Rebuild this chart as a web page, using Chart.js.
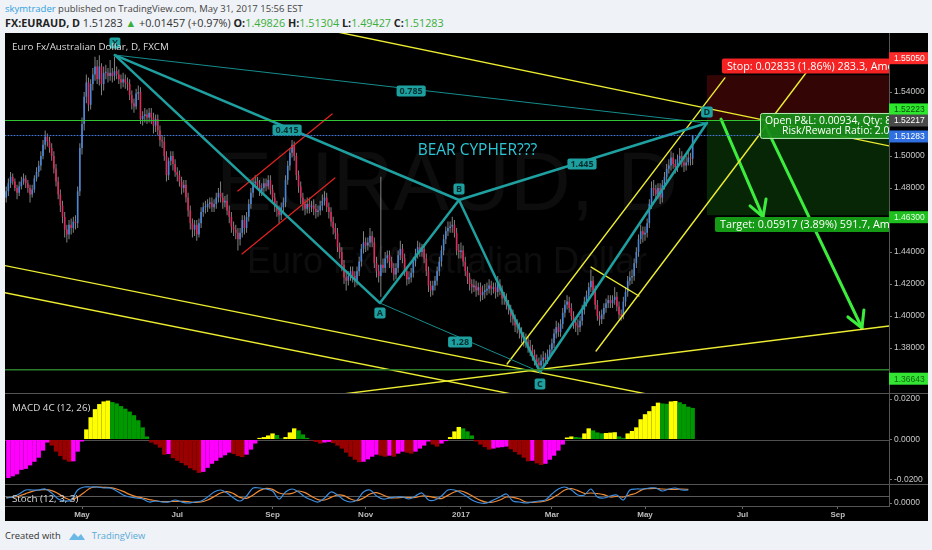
<!DOCTYPE html>
<html>
<head>
<meta charset="utf-8">
<title>EURAUD daily - Bear Cypher</title>
<script src="https://cdn.jsdelivr.net/npm/chart.js@4.4.0/dist/chart.umd.min.js"></script>
<style>
  body { margin: 0; width: 932px; height: 550px; overflow: hidden; background: #eff2f6; font-family: "Open Sans", sans-serif; }
  #h1 { position: absolute; left: 5px; top: 2px; font-size: 9.5px; color: #444; white-space: nowrap; }
  #h2 { position: absolute; left: 5px; top: 15px; font-size: 10.8px; color: #333; white-space: nowrap; }
  #h2 b { color: #222; }
  .g { color: #3aae3a; }
  #box { position: absolute; left: 5px; top: 33px; width: 923px; height: 488px; background: #000; }
  .pane { position: absolute; left: 0; width: 923px; }
  #ft { position: absolute; left: 5px; top: 529px; font-size: 9.4px; color: #333; white-space: nowrap; display: flex; align-items: center; }
  #ft svg { margin: 0 6px 0 7px; }
  #ft span { color: #5aaad8; }
</style>
</head>
<body>
<div id="h1"><span style="color:#2f9fe0">skymtrader</span> published on TradingView.com, May 31, 2017 15:56 EST</div>
<div id="h2"><b>FX:EURAUD, D</b> 1.51283 <span class="g">&#9650;</span> +0.01457 (+0.97%) <b>O:</b><span class="g">1.49826</span> <b>H:</b><span class="g">1.51304</span> <b>L:</b><span class="g">1.49427</span> <b>C:</b><span class="g">1.51283</span></div>
<div id="box">
  <div class="pane" style="top:0;height:361px"><canvas id="main"></canvas></div>
  <div class="pane" style="top:361px;height:91px"><canvas id="macd"></canvas></div>
  <div class="pane" style="top:452px;height:36px"><canvas id="stoch"></canvas></div>
</div>
<div id="ft">Created with<svg width="18" height="11" viewBox="0 0 18 11"><path d="M1 10 L6 3 L10 7 L13 4 L17 10 Z" fill="#69b8e6"/></svg><span>TradingView</span></div>

<script>
// bar 0 = 2 May 2016, one bar per trading day
const firstBar = -35;
const firstOpen = 1.474;

const closes = [
  1.478, 1.483, 1.487, 1.484, 1.480, 1.477, 1.481, 1.484, 1.486, 1.483,
  1.480, 1.476, 1.479, 1.486, 1.490, 1.494, 1.500, 1.507, 1.512, 1.509,
  1.505, 1.500, 1.492, 1.484, 1.476, 1.469, 1.462, 1.454, 1.451, 1.457,
  1.455, 1.459, 1.458, 1.478, 1.505, 1.520, 1.537, 1.546, 1.532, 1.545,
  1.551, 1.556, 1.548, 1.556, 1.545, 1.552, 1.552, 1.550, 1.552, 1.550,
  1.553, 1.551, 1.548, 1.546, 1.548, 1.546, 1.545, 1.538, 1.533, 1.531,
  1.539, 1.540, 1.523, 1.525, 1.526, 1.524, 1.527, 1.524, 1.519, 1.523,
  1.516, 1.510, 1.509, 1.500, 1.488, 1.497, 1.500, 1.495, 1.490, 1.488,
  1.484, 1.480, 1.482, 1.474, 1.466, 1.458, 1.454, 1.457, 1.451, 1.458,
  1.465, 1.468, 1.468, 1.470, 1.471, 1.468, 1.470, 1.474, 1.477, 1.474,
  1.471, 1.472, 1.466, 1.462, 1.456, 1.454, 1.452, 1.448, 1.452, 1.460,
  1.455, 1.462, 1.470, 1.477, 1.483, 1.484, 1.482, 1.478, 1.480, 1.483,
  1.481, 1.485, 1.479, 1.474, 1.469, 1.466, 1.463, 1.468, 1.471, 1.485,
  1.494, 1.502, 1.507, 1.500, 1.488, 1.481, 1.474, 1.470, 1.467, 1.470,
  1.468, 1.469, 1.467, 1.465, 1.466, 1.469, 1.472, 1.474, 1.468, 1.465,
  1.459, 1.455, 1.452, 1.443, 1.440, 1.432, 1.424, 1.422, 1.425, 1.428,
  1.425, 1.422, 1.428, 1.434, 1.442, 1.446, 1.444, 1.446, 1.450, 1.446,
  1.433, 1.428, 1.425, 1.432, 1.430, 1.436, 1.438, 1.434, 1.430, 1.426,
  1.430, 1.438, 1.442, 1.436, 1.428, 1.423, 1.424, 1.427, 1.434, 1.439,
  1.443, 1.440, 1.442, 1.436, 1.428, 1.419, 1.416, 1.419, 1.422, 1.428,
  1.434, 1.441, 1.448, 1.453, 1.455, 1.456, 1.457, 1.452, 1.441, 1.440,
  1.441, 1.434, 1.428, 1.424, 1.420, 1.418, 1.419, 1.416, 1.418, 1.413,
  1.415, 1.416, 1.417, 1.419, 1.417, 1.418, 1.415, 1.420, 1.416, 1.411,
  1.411, 1.407, 1.404, 1.400, 1.398, 1.394, 1.393, 1.390, 1.387, 1.385,
  1.384, 1.381, 1.379, 1.376, 1.373, 1.371, 1.369, 1.372, 1.374, 1.373,
  1.376, 1.379, 1.383, 1.389, 1.393, 1.390, 1.395, 1.402, 1.407, 1.409,
  1.405, 1.400, 1.396, 1.394, 1.393, 1.397, 1.404, 1.409, 1.413, 1.418,
  1.422, 1.416, 1.407, 1.400, 1.398, 1.401, 1.405, 1.408, 1.410, 1.408,
  1.410, 1.412, 1.406, 1.401, 1.400, 1.409, 1.415, 1.422, 1.424, 1.425,
  1.433, 1.440, 1.448, 1.453, 1.451, 1.452, 1.458, 1.470, 1.480, 1.479,
  1.476, 1.480, 1.474, 1.482, 1.487, 1.492, 1.494, 1.499, 1.495, 1.493,
  1.498, 1.500, 1.496, 1.494, 1.496, 1.499, 1.4983, 1.5128
];

const highs = [
  1.481, 1.486, 1.490, 1.489, 1.486, 1.482, 1.484, 1.487, 1.489, 1.488,
  1.485, 1.482, 1.482, 1.488, 1.493, 1.497, 1.503, 1.510, 1.516, 1.514,
  1.512, 1.508, 1.503, 1.495, 1.487, 1.479, 1.472, 1.465, 1.457, 1.460,
  1.461, 1.462, 1.463, 1.481, 1.508, 1.524, 1.540, 1.551, 1.549, 1.548,
  1.555, 1.562, 1.560, 1.563, 1.558, 1.556, 1.557, 1.555, 1.560, 1.555,
  1.562, 1.556, 1.554, 1.551, 1.552, 1.551, 1.549, 1.548, 1.541, 1.536,
  1.542, 1.544, 1.543, 1.528, 1.530, 1.529, 1.530, 1.530, 1.527, 1.526,
  1.526, 1.519, 1.513, 1.512, 1.503, 1.499, 1.503, 1.503, 1.498, 1.493,
  1.491, 1.487, 1.485, 1.485, 1.477, 1.469, 1.461, 1.460, 1.460, 1.461,
  1.468, 1.471, 1.472, 1.473, 1.474, 1.474, 1.473, 1.477, 1.480, 1.484,
  1.477, 1.475, 1.476, 1.469, 1.465, 1.459, 1.457, 1.455, 1.455, 1.463,
  1.463, 1.465, 1.473, 1.480, 1.486, 1.488, 1.487, 1.485, 1.483, 1.486,
  1.486, 1.488, 1.488, 1.482, 1.477, 1.472, 1.469, 1.471, 1.474, 1.488,
  1.497, 1.505, 1.510, 1.509, 1.502, 1.491, 1.484, 1.477, 1.473, 1.474,
  1.474, 1.472, 1.473, 1.470, 1.469, 1.472, 1.476, 1.478, 1.477, 1.471,
  1.468, 1.462, 1.458, 1.455, 1.446, 1.443, 1.435, 1.427, 1.428, 1.431,
  1.431, 1.428, 1.431, 1.437, 1.445, 1.453, 1.449, 1.449, 1.455, 1.453,
  1.449, 1.437, 1.432, 1.487, 1.436, 1.440, 1.441, 1.441, 1.437, 1.433,
  1.433, 1.441, 1.447, 1.445, 1.439, 1.431, 1.428, 1.430, 1.437, 1.442,
  1.447, 1.446, 1.445, 1.445, 1.439, 1.431, 1.422, 1.422, 1.425, 1.431,
  1.437, 1.444, 1.451, 1.456, 1.459, 1.459, 1.462, 1.460, 1.455, 1.445,
  1.446, 1.444, 1.437, 1.431, 1.427, 1.423, 1.423, 1.422, 1.421, 1.421,
  1.419, 1.420, 1.421, 1.423, 1.422, 1.421, 1.421, 1.425, 1.423, 1.419,
  1.415, 1.414, 1.410, 1.407, 1.404, 1.401, 1.398, 1.396, 1.393, 1.390,
  1.389, 1.387, 1.385, 1.382, 1.379, 1.376, 1.374, 1.376, 1.378, 1.377,
  1.379, 1.382, 1.386, 1.392, 1.397, 1.396, 1.398, 1.405, 1.410, 1.413,
  1.412, 1.408, 1.403, 1.399, 1.398, 1.400, 1.407, 1.412, 1.416, 1.421,
  1.429, 1.425, 1.419, 1.410, 1.403, 1.404, 1.408, 1.411, 1.413, 1.413,
  1.413, 1.418, 1.415, 1.409, 1.404, 1.412, 1.418, 1.425, 1.428, 1.429,
  1.436, 1.443, 1.451, 1.457, 1.456, 1.456, 1.461, 1.473, 1.484, 1.485,
  1.482, 1.483, 1.483, 1.485, 1.490, 1.495, 1.498, 1.503, 1.502, 1.498,
  1.501, 1.505, 1.503, 1.499, 1.500, 1.503, 1.502, 1.5130
];

const lows = [
  1.471, 1.475, 1.480, 1.482, 1.478, 1.473, 1.475, 1.479, 1.482, 1.480,
  1.477, 1.471, 1.474, 1.477, 1.484, 1.487, 1.491, 1.498, 1.504, 1.506,
  1.502, 1.497, 1.489, 1.481, 1.473, 1.465, 1.458, 1.449, 1.446, 1.448,
  1.451, 1.452, 1.454, 1.455, 1.475, 1.501, 1.516, 1.533, 1.528, 1.529,
  1.541, 1.547, 1.545, 1.544, 1.538, 1.541, 1.548, 1.546, 1.547, 1.546,
  1.547, 1.548, 1.545, 1.542, 1.543, 1.542, 1.541, 1.535, 1.529, 1.527,
  1.529, 1.535, 1.520, 1.519, 1.521, 1.520, 1.521, 1.520, 1.514, 1.515,
  1.513, 1.506, 1.505, 1.497, 1.484, 1.485, 1.494, 1.491, 1.487, 1.484,
  1.481, 1.476, 1.477, 1.471, 1.462, 1.454, 1.449, 1.450, 1.447, 1.449,
  1.455, 1.462, 1.464, 1.465, 1.467, 1.465, 1.465, 1.467, 1.471, 1.471,
  1.467, 1.468, 1.463, 1.458, 1.452, 1.450, 1.448, 1.441, 1.444, 1.449,
  1.451, 1.452, 1.459, 1.467, 1.474, 1.480, 1.479, 1.475, 1.475, 1.477,
  1.478, 1.479, 1.476, 1.471, 1.465, 1.462, 1.458, 1.460, 1.465, 1.468,
  1.482, 1.491, 1.499, 1.497, 1.485, 1.477, 1.470, 1.466, 1.463, 1.464,
  1.464, 1.465, 1.463, 1.461, 1.462, 1.463, 1.466, 1.469, 1.465, 1.461,
  1.456, 1.451, 1.448, 1.440, 1.436, 1.428, 1.420, 1.416, 1.419, 1.422,
  1.421, 1.418, 1.419, 1.425, 1.431, 1.439, 1.440, 1.441, 1.443, 1.443,
  1.430, 1.424, 1.421, 1.412, 1.427, 1.427, 1.433, 1.430, 1.427, 1.422,
  1.423, 1.427, 1.435, 1.433, 1.425, 1.419, 1.420, 1.421, 1.424, 1.431,
  1.436, 1.437, 1.437, 1.433, 1.425, 1.415, 1.412, 1.413, 1.416, 1.419,
  1.425, 1.431, 1.438, 1.445, 1.450, 1.452, 1.452, 1.449, 1.438, 1.436,
  1.436, 1.431, 1.425, 1.420, 1.416, 1.414, 1.415, 1.412, 1.413, 1.409,
  1.410, 1.411, 1.413, 1.414, 1.413, 1.414, 1.411, 1.412, 1.413, 1.407,
  1.407, 1.404, 1.401, 1.396, 1.394, 1.390, 1.389, 1.386, 1.383, 1.381,
  1.380, 1.377, 1.375, 1.372, 1.369, 1.368, 1.3665, 1.366, 1.369, 1.370,
  1.370, 1.373, 1.376, 1.380, 1.386, 1.387, 1.387, 1.392, 1.399, 1.404,
  1.402, 1.397, 1.392, 1.390, 1.388, 1.390, 1.394, 1.401, 1.406, 1.410,
  1.415, 1.413, 1.404, 1.397, 1.394, 1.395, 1.398, 1.402, 1.405, 1.405,
  1.405, 1.407, 1.403, 1.398, 1.397, 1.398, 1.406, 1.412, 1.419, 1.420,
  1.422, 1.430, 1.437, 1.445, 1.446, 1.447, 1.449, 1.455, 1.467, 1.475,
  1.472, 1.473, 1.470, 1.471, 1.479, 1.484, 1.489, 1.491, 1.492, 1.489,
  1.490, 1.494, 1.493, 1.490, 1.491, 1.494, 1.494, 1.4943
];

// MACD 4C histogram, one value every second bar starting at bar -34
const macdStart = -34, macdStep = 2;
const macdHist = [
  -0.0190, -0.0182, -0.0172, -0.0150, -0.0145, -0.0128, -0.0110, -0.0090, -0.0055, -0.0015,
  -0.0030, -0.0060, -0.0082, -0.0100, -0.0110, -0.0108, -0.0060, -0.0010, 0.0050, 0.0110,
  0.0150, 0.0175, 0.0188, 0.0192, 0.0185, 0.0178, 0.0165, 0.0152, 0.0138, 0.0120,
  0.0095, 0.0060, 0.0015, -0.0015, -0.0025, -0.0040, -0.0075, -0.0072, -0.0092, -0.0105,
  -0.0116, -0.0128, -0.0142, -0.0152, -0.0165, -0.0160, -0.0140, -0.0120, -0.0105, -0.0090,
  -0.0078, -0.0065, -0.0072, -0.0082, -0.0087, -0.0075, -0.0050, -0.0020, 0.0008, 0.0012,
  0.0020, 0.0030, 0.0022, 0.0005, 0.0012, 0.0035, 0.0055, 0.0045, 0.0025, 0.0008,
  -0.0005, -0.0012, -0.0020, -0.0015, -0.0012, -0.0018, -0.0030, -0.0045, -0.0065, -0.0085,
  -0.0100, -0.0112, -0.0110, -0.0098, -0.0085, -0.0075, -0.0080, -0.0085, -0.0080, -0.0085,
  -0.0070, -0.0060, -0.0065, -0.0070, -0.0060, -0.0045, -0.0030, -0.0010, -0.0025, -0.0035,
  -0.0020, -0.0008, 0.0012, 0.0040, 0.0062, 0.0055, 0.0040, 0.0020, -0.0010, -0.0025,
  -0.0038, -0.0050, -0.0045, -0.0040, -0.0038, -0.0035, -0.0048, -0.0062, -0.0075, -0.0090,
  -0.0108, -0.0105, -0.0118, -0.0126, -0.0120, -0.0100, -0.0080, -0.0055, -0.0025, 0.0010,
  0.0015, 0.0012, 0.0010, 0.0030, 0.0055, 0.0045, 0.0035, 0.0030, 0.0032, 0.0034,
  0.0036, 0.0015, 0.0008, 0.0030, 0.0042, 0.0060, 0.0100, 0.0125, 0.0140, 0.0165,
  0.0182, 0.0178, 0.0176, 0.0188, 0.0190, 0.0184, 0.0175, 0.0162, 0.0156
];

// Stoch (12, 3, 3), one value every third bar starting at bar -35
const stochStart = -35, stochStep = 3;
const stochK = [
  40, 45, 60, 80, 80, 80, 85, 65, 35, 25,
  30, 80, 95, 95, 95, 90, 90, 75, 55, 45,
  40, 35, 20, 25, 20, 20, 30, 20, 15, 20,
  25, 45, 70, 80, 65, 40, 25, 50, 90, 90,
  85, 75, 35, 70, 85, 70, 45, 30, 20, 40,
  70, 55, 30, 20, 30, 70, 80, 50, 35, 40,
  45, 45, 35, 50, 65, 30, 30, 50, 80, 80,
  65, 45, 25, 15, 15, 30, 45, 60, 25, 20,
  15, 20, 25, 30, 60, 85, 95, 80, 55, 55,
  85, 45, 40, 50, 55, 30, 80, 85, 85, 90,
  90, 75, 85, 90, 80, 80
];
const stochD = [
  42, 44, 50, 62, 73, 80, 82, 77, 62, 42,
  30, 45, 68, 90, 95, 93, 92, 85, 73, 58,
  47, 40, 32, 27, 22, 22, 23, 23, 22, 18,
  20, 30, 47, 65, 72, 62, 43, 38, 55, 77,
  88, 83, 65, 60, 63, 75, 67, 48, 32, 30,
  43, 55, 52, 35, 27, 40, 60, 67, 55, 42,
  40, 43, 42, 43, 50, 48, 42, 37, 53, 70,
  75, 63, 45, 28, 18, 20, 30, 45, 43, 35,
  20, 18, 20, 25, 38, 58, 80, 87, 77, 63,
  65, 62, 57, 45, 48, 45, 55, 65, 83, 87,
  88, 85, 83, 83, 85, 83
];

// time axis (bar index of the first trading day of the month)
const monthBars = [0, 44, 88, 131, 175, 217, 260, 305, 349];
const monthLabels = ['May', 'Jul', 'Sep', 'Nov', '2017', 'Mar', 'May', 'Jul', 'Sep'];
const priceTicks = [1.38, 1.40, 1.42, 1.44, 1.48, 1.50, 1.54];
const macdTicks = [-0.02, 0, 0.02];

// drawings, points are [bar, price]
const cX = [15.2, 1.5631], cA = [137.6, 1.4081], cB = [174.1, 1.4725], cC = [211.5, 1.3650], cD = [288.6, 1.5206];
const yellowLines = [
  [[115, 1.5783], [372.7, 1.5063]],
  [[-36, 1.4316], [285, 1.3447]],
  [[-36, 1.4146], [240, 1.3400]],
  [[110, 1.3495], [372.7, 1.3938]],
  [[196.3, 1.3700], [296.9, 1.5488]],
  [[237.4, 1.3781], [337.1, 1.5569]],
  [[235.1, 1.4306], [257.2, 1.4125]]
];
const redLines = [
  [[72.0, 1.4781], [115.5, 1.5263]],
  [[73.9, 1.4388], [116.8, 1.4863]]
];
const arrows = [
  [[295.1, 1.5231], [314.5, 1.4619]],
  [[308.5, 1.4688], [314.5, 1.4619], [315.9, 1.4731]],
  [[315.4, 1.5194], [360.2, 1.3925]],
  [[353.7, 1.3994], [360.2, 1.3925], [361.1, 1.4038]]
];
const entryPrice = 1.52217, stopPrice = 1.5505, targetPrice = 1.463;
const lowLevel = 1.36643, lastPrice = 1.51283;
const ratioTags = [['0.415', 94.7, 1.5163], ['0.785', 152.0, 1.5406], ['1.445', 230.9, 1.4950], ['1.28', 174.6, 1.3838]];

const xMin = -35.56, xMax = 372.68;
const UP = '#4a86d6', DOWN = '#dc2a5c', WICK = 'rgba(185,185,185,0.7)';
const TEAL = '#1fa0a0';

Chart.defaults.font.family = '"Liberation Sans", Arial, sans-serif';

// candles: open is the previous close
const wicks = [], bodies = [], bodyColors = [];
closes.forEach((c, i) => {
  const o = i === 0 ? firstOpen : closes[i - 1];
  const x = firstBar + i;
  wicks.push({ x: x, y: [lows[i], highs[i]] });
  bodies.push({ x: x, y: [o, c] });
  bodyColors.push(c >= o ? UP : DOWN);
});

function lineSet(pts, color, width, dash) {
  return {
    type: 'line',
    data: pts.map(p => ({ x: p[0], y: p[1] })),
    borderColor: color, borderWidth: width, borderDash: dash || [],
    pointRadius: 0, tension: 0, fill: false, order: 0,
    borderCapStyle: 'round', borderJoinStyle: 'round'
  };
}

const drawingSets = [
  lineSet([[xMin, lowLevel], [xMax, lowLevel]], '#2b7d2b', 1.5),
  lineSet([[xMin, lastPrice], [xMax, lastPrice]], '#4a7be0', 1, [1, 2]),
  lineSet([[xMin, entryPrice], [xMax, entryPrice]], '#33c833', 1),
  lineSet([cX, cD], '#178c8c', 1),
  lineSet([cA, cC], '#178c8c', 1),
  lineSet([cX, cA, cB, cC, cD], TEAL, 2.5),
  lineSet([cX, cB], TEAL, 2.5),
  lineSet([cB, cD], TEAL, 2.5)
];
yellowLines.forEach(l => drawingSets.push(lineSet(l, '#ecec30', 1.4)));
redLines.forEach(l => drawingSets.push(lineSet(l, '#e42222', 1.2)));
arrows.forEach(l => drawingSets.push(lineSet(l, '#3ded3d', 3)));

function xAxis(show) {
  return {
    type: 'linear', min: xMin, max: xMax, display: show, offset: false,
    afterBuildTicks: s => { s.ticks = monthBars.map(v => ({ value: v })); },
    afterFit: s => { if (show) s.height = 15; s.paddingLeft = 0; s.paddingRight = 0; },
    ticks: {
      autoSkip: false, maxRotation: 0, padding: 1, color: '#bdbdbd',
      font: { size: 8, weight: 'bold' },
      callback: (v, i) => monthLabels[i]
    },
    grid: { drawOnChartArea: false, drawTicks: true, tickLength: 3, color: '#666' },
    border: { display: true, color: '#555' }
  };
}

function yAxis(min, max, ticks, digits) {
  return {
    position: 'right', min: min, max: max,
    afterBuildTicks: s => { s.ticks = ticks.map(v => ({ value: v })); },
    afterFit: s => { s.width = 39; s.paddingTop = 0; s.paddingBottom = 0; },
    ticks: { padding: 2, color: '#c8c8c8', font: { size: 8.5 }, callback: v => Number(v).toFixed(digits) },
    grid: { drawOnChartArea: false, drawTicks: true, tickLength: 3, color: '#777' },
    border: { display: true, color: '#555' }
  };
}

function tagBox(ctx, text, cx, cy, bg, fg, font, padX, h) {
  ctx.font = font;
  const w = ctx.measureText(text).width + padX * 2;
  ctx.fillStyle = bg;
  ctx.beginPath();
  ctx.roundRect(cx - w / 2, cy - h / 2, w, h, 2);
  ctx.fill();
  ctx.fillStyle = fg;
  ctx.textAlign = 'center';
  ctx.textBaseline = 'middle';
  ctx.fillText(text, cx, cy + 0.5);
}

// titles, pane separators and level lines for every pane
const panePlugin = {
  id: 'pane',
  beforeDatasetsDraw(chart, args, opts) {
    const { ctx, chartArea: a, scales: { y } } = chart;
    (opts.levels || []).forEach(l => {
      const py = Math.round(y.getPixelForValue(l.value)) + 0.5;
      ctx.save();
      ctx.strokeStyle = l.color;
      ctx.lineWidth = 1;
      ctx.beginPath(); ctx.moveTo(a.left, py); ctx.lineTo(a.right, py); ctx.stroke();
      ctx.restore();
    });
  },
  afterDraw(chart, args, opts) {
    const { ctx, chartArea: a } = chart;
    ctx.save();
    if (opts.separator) {
      ctx.strokeStyle = '#555';
      ctx.lineWidth = 1;
      ctx.beginPath(); ctx.moveTo(0, a.bottom - 0.5); ctx.lineTo(chart.width, a.bottom - 0.5); ctx.stroke();
    }
    if (opts.title) {
      ctx.fillStyle = '#dcdcdc';
      ctx.font = '9.8px "Open Sans", sans-serif';
      ctx.textAlign = 'left';
      ctx.textBaseline = 'middle';
      ctx.fillText(opts.title, a.left + 7, a.top + 14.5);
    }
    ctx.restore();
  }
};
Chart.register(panePlugin);

const mainOverlay = {
  id: 'mainOverlay',
  beforeDatasetsDraw(chart) {
    const { ctx, chartArea: a, scales: { x, y } } = chart;
    ctx.save();
    ctx.beginPath(); ctx.rect(a.left, a.top, a.width, a.height); ctx.clip();
    const x0 = x.getPixelForValue(cD[0]), x1 = x.getPixelForValue(xMax);
    const yStop = y.getPixelForValue(stopPrice), yEntry = y.getPixelForValue(entryPrice), yTarget = y.getPixelForValue(targetPrice);
    ctx.fillStyle = '#330505';
    ctx.fillRect(x0, yStop, x1 - x0, yEntry - yStop);
    ctx.fillStyle = '#062606';
    ctx.fillRect(x0, yEntry, x1 - x0, yTarget - yEntry);
    // symbol watermark
    ctx.fillStyle = 'rgba(255,255,255,0.05)';
    ctx.textAlign = 'center';
    ctx.textBaseline = 'alphabetic';
    const cx = (a.left + a.right) / 2;
    ctx.font = '84px "Liberation Sans", Arial, sans-serif';
    ctx.fillText('EURAUD, D', cx, a.top + 177);
    ctx.font = '36px "Liberation Sans", Arial, sans-serif';
    ctx.fillText('Euro Fx/Australian Dollar', cx, a.top + 240);
    ctx.restore();
  },
  afterDatasetsDraw(chart) {
    const { ctx, chartArea: a, scales: { x, y } } = chart;
    ctx.save();
    ctx.beginPath(); ctx.rect(a.left, a.top, a.width, a.height); ctx.clip();
    const tagFont = 'bold 9px "Open Sans", sans-serif';
    ratioTags.forEach(t => tagBox(ctx, t[0], x.getPixelForValue(t[1]), y.getPixelForValue(t[2]), TEAL, '#062f2f', tagFont, 3, 11));
    [['X', cX, -12], ['A', cA, 10], ['B', cB, -11], ['C', cC, 12], ['D', cD, -11]].forEach(t =>
      tagBox(ctx, t[0], x.getPixelForValue(t[1][0]), y.getPixelForValue(t[1][1]) + t[2], TEAL, '#062f2f', tagFont, 2.5, 11));

    ctx.fillStyle = '#2cc6d6';
    ctx.font = '15.5px "Open Sans", sans-serif';
    ctx.textAlign = 'left';
    ctx.textBaseline = 'middle';
    ctx.fillText('BEAR CYPHER???', x.getPixelForValue(155), y.getPixelForValue(1.5031));

    // short position labels
    ctx.font = '10.8px "Open Sans", sans-serif';
    let lx = x.getPixelForValue(295.5), cy = y.getPixelForValue(1.5563);
    ctx.fillStyle = '#f42222';
    ctx.beginPath(); ctx.roundRect(lx, cy - 7.5, a.right - lx + 6, 15, 2); ctx.fill();
    ctx.fillStyle = '#fff';
    ctx.fillText('Stop: 0.02833 (1.86%) 283.3, Amount: 10000', lx + 5, cy + 0.5);

    lx = x.getPixelForValue(292.3); cy = y.getPixelForValue(1.4572);
    ctx.fillStyle = '#149a14';
    ctx.beginPath(); ctx.roundRect(lx, cy - 7.5, a.right - lx + 6, 15, 2); ctx.fill();
    ctx.fillStyle = '#fff';
    ctx.fillText('Target: 0.05917 (3.89%) 591.7, Amount: 10000', lx + 5, cy + 0.5);

    ctx.font = '10.4px "Open Sans", sans-serif';
    lx = x.getPixelForValue(313.1);
    const top = y.getPixelForValue(1.5269), bot = y.getPixelForValue(1.5113);
    ctx.fillStyle = 'rgba(24,140,24,0.92)';
    ctx.strokeStyle = '#b6eeb6';
    ctx.lineWidth = 1;
    ctx.beginPath(); ctx.roundRect(lx + 0.5, top + 0.5, a.right - lx + 6, bot - top, 2); ctx.fill(); ctx.stroke();
    ctx.fillStyle = '#fff';
    ctx.fillText('Open P&L: 0.00934, Qty: 8000', lx + 5, top + 8);
    ctx.fillText('Risk/Reward Ratio: 2.09', lx + 22, top + 18);
    ctx.restore();
  },
  afterDraw(chart) {
    const { ctx, chartArea: a, scales: { y } } = chart;
    ctx.save();
    ctx.font = '8.5px "Liberation Sans", Arial, sans-serif';
    ctx.textAlign = 'left';
    ctx.textBaseline = 'middle';
    [[stopPrice, -17, '#ff2a2a', '#fff'],
     [1.52223, -11, '#2ee82e', '#0b4d0b'],
     [entryPrice, 0, '#4a4a4a', '#fff'],
     [lastPrice, 1, '#2f6fe0', '#fff'],
     [targetPrice, 2, '#1fbf1f', '#eaffea'],
     [lowLevel, 9, '#33e633', '#116611']].forEach(t => {
      const py = y.getPixelForValue(t[0]) + t[1];
      ctx.fillStyle = t[2];
      ctx.fillRect(a.right, py - 6, chart.width - a.right, 12);
      ctx.fillStyle = t[3];
      ctx.fillText(t[0].toFixed(5), a.right + 5, py + 0.5);
    });
    ctx.restore();
  }
};

const baseOptions = () => ({
  responsive: true,
  maintainAspectRatio: false,
  animation: false,
  layout: { padding: 0 },
  events: []
});

new Chart(document.getElementById('main'), {
  type: 'bar',
  data: {
    datasets: drawingSets.concat([
      { type: 'bar', data: bodies, backgroundColor: bodyColors, barThickness: 1.6, minBarLength: 1, grouped: false, inflateAmount: 0, order: 5 },
      { type: 'bar', data: wicks, backgroundColor: WICK, barThickness: 1, grouped: false, inflateAmount: 0, order: 6 }
    ])
  },
  options: Object.assign(baseOptions(), {
    plugins: {
      legend: { display: false }, tooltip: { enabled: false },
      pane: { title: 'Euro Fx/Australian Dollar, D, FXCM', separator: true }
    },
    scales: { x: xAxis(false), y: yAxis(1.35125, 1.576875, priceTicks, 5) }
  }),
  plugins: [mainOverlay]
});

const macdColors = macdHist.map((v, i) => {
  const prev = i === 0 ? v : macdHist[i - 1];
  if (v >= 0) return v >= prev ? '#ffff00' : '#009a00';
  return v >= prev ? '#ff00ff' : '#990000';
});

new Chart(document.getElementById('macd'), {
  type: 'bar',
  data: {
    datasets: [{
      data: macdHist.map((v, i) => ({ x: macdStart + i * macdStep, y: v })),
      backgroundColor: macdColors, barThickness: 4.4, inflateAmount: 0, grouped: false
    }]
  },
  options: Object.assign(baseOptions(), {
    plugins: {
      legend: { display: false }, tooltip: { enabled: false },
      pane: { title: 'MACD 4C (12, 26)', separator: true, levels: [{ value: 0, color: '#505050' }] }
    },
    scales: { x: xAxis(false), y: yAxis(-0.02247, 0.02247, macdTicks, 4) }
  })
});

new Chart(document.getElementById('stoch'), {
  type: 'line',
  data: {
    datasets: [
      { data: stochK.map((v, i) => ({ x: stochStart + i * stochStep, y: v })), borderColor: '#3d8ee0', borderWidth: 1.2, pointRadius: 0, tension: 0.35 },
      { data: stochD.map((v, i) => ({ x: stochStart + i * stochStep, y: v })), borderColor: '#f08a35', borderWidth: 1.2, pointRadius: 0, tension: 0.35 }
    ]
  },
  options: Object.assign(baseOptions(), {
    plugins: {
      legend: { display: false }, tooltip: { enabled: false },
      pane: { title: 'Stoch (12, 3, 3)', levels: [{ value: 50, color: '#5a5a5a' }] }
    },
    scales: {
      x: xAxis(true),
      y: Object.assign(yAxis(0, 105, [15], 4), { ticks: { padding: 2, color: '#c8c8c8', font: { size: 8.5 }, callback: () => '0.0000' } })
    }
  })
});
</script>
</body>
</html>
